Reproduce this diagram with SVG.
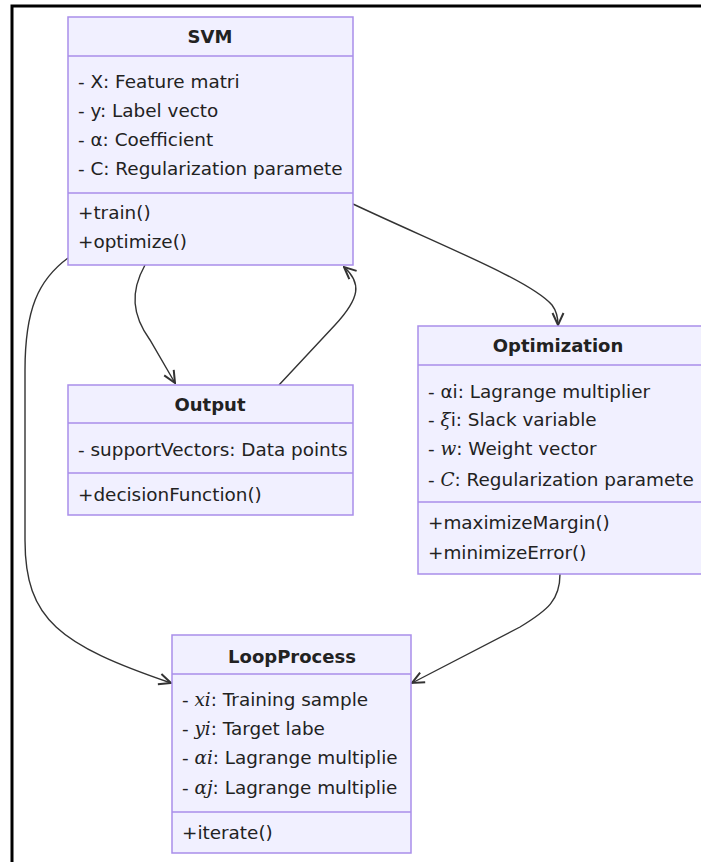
<svg xmlns="http://www.w3.org/2000/svg" width="701" height="862" viewBox="0 0 701 862">
<style>
.box{fill:#F1F0FF;stroke:#A98EEA;stroke-width:1.5}
.div{stroke:#A98EEA;stroke-width:1.5}
.t{font-family:"DejaVu Sans",sans-serif;font-size:18.4px;fill:#222}
.h{font-family:"DejaVu Sans",sans-serif;font-size:18px;font-weight:bold;fill:#222;text-anchor:middle}
.m{font-family:"DejaVu Serif","Liberation Serif",serif;font-style:italic}
.e{fill:none;stroke:#333;stroke-width:1.4}
</style>
<defs>
<marker id="arr" viewBox="0 0 14 14" refX="13" refY="7" markerWidth="14" markerHeight="14" markerUnits="userSpaceOnUse" orient="auto">
<path d="M1,1.5 L13,7 L1,12.5" fill="none" stroke="#333" stroke-width="2"/>
</marker>
</defs>
<rect x="0" y="0" width="701" height="862" fill="#fff"/>
<rect x="12" y="6" width="800" height="900" fill="none" stroke="#000" stroke-width="3"/>

<g id="connectors">
<path class="e" d="M353,204 C440,245 530,280 552,305 Q558,313 558,325" marker-end="url(#arr)"/>
<path class="e" d="M145,265 C130,292 132,315 150,340 L175,383" marker-end="url(#arr)"/>
<path class="e" d="M279,385 L335,325 C360,298 362,283 344,267" marker-end="url(#arr)"/>
<path class="e" d="M68,258 C38,280 25,310 25,370 L25,540 C25,620 60,645 171,683" marker-end="url(#arr)"/>
<path class="e" d="M560,574 C560,600 548,610 520,627 L412,683" marker-end="url(#arr)"/>
</g>

<g id="SVM">
<rect class="box" x="68" y="17" width="285" height="248"/>
<line class="div" x1="68" y1="56" x2="353" y2="56"/>
<line class="div" x1="68" y1="193" x2="353" y2="193"/>
<text class="h" x="210" y="43">SVM</text>
<text class="t" x="78" y="88">- X: Feature matri</text>
<text class="t" x="78" y="117">- y: Label vecto</text>
<text class="t" x="78" y="146">- α: Coefficient</text>
<text class="t" x="78" y="175">- C: Regularization paramete</text>
<text class="t" x="78" y="219">+train()</text>
<text class="t" x="78" y="248">+optimize()</text>
</g>

<g id="Output">
<rect class="box" x="68" y="385" width="285" height="130"/>
<line class="div" x1="68" y1="423" x2="353" y2="423"/>
<line class="div" x1="68" y1="473" x2="353" y2="473"/>
<text class="h" x="210" y="411">Output</text>
<text class="t" x="78" y="456">- supportVectors: Data points</text>
<text class="t" x="78" y="501">+decisionFunction()</text>
</g>

<g id="Optimization">
<rect class="box" x="418" y="326" width="300" height="248"/>
<line class="div" x1="418" y1="365" x2="718" y2="365"/>
<line class="div" x1="418" y1="502" x2="718" y2="502"/>
<text class="h" x="558" y="352">Optimization</text>
<text class="t" x="428" y="398">- αi: Lagrange multiplier</text>
<text class="t" x="428" y="426">- <tspan class="m">ξ</tspan>i: Slack variable</text>
<text class="t" x="428" y="455">- <tspan class="m">w</tspan>: Weight vector</text>
<text class="t" x="428" y="486">- <tspan class="m">C</tspan>: Regularization paramete</text>
<text class="t" x="428" y="529">+maximizeMargin()</text>
<text class="t" x="428" y="559">+minimizeError()</text>
</g>

<g id="LoopProcess">
<rect class="box" x="172" y="635" width="239" height="218"/>
<line class="div" x1="172" y1="674" x2="411" y2="674"/>
<line class="div" x1="172" y1="812" x2="411" y2="812"/>
<text class="h" x="292" y="663">LoopProcess</text>
<text class="t" x="182" y="706">- <tspan class="m">xi</tspan>: Training sample</text>
<text class="t" x="182" y="735">- <tspan class="m">yi</tspan>: Target labe</text>
<text class="t" x="182" y="764">- <tspan class="m">αi</tspan>: Lagrange multiplie</text>
<text class="t" x="182" y="794">- <tspan class="m">αj</tspan>: Lagrange multiplie</text>
<text class="t" x="182" y="839">+iterate()</text>
</g>
</svg>
